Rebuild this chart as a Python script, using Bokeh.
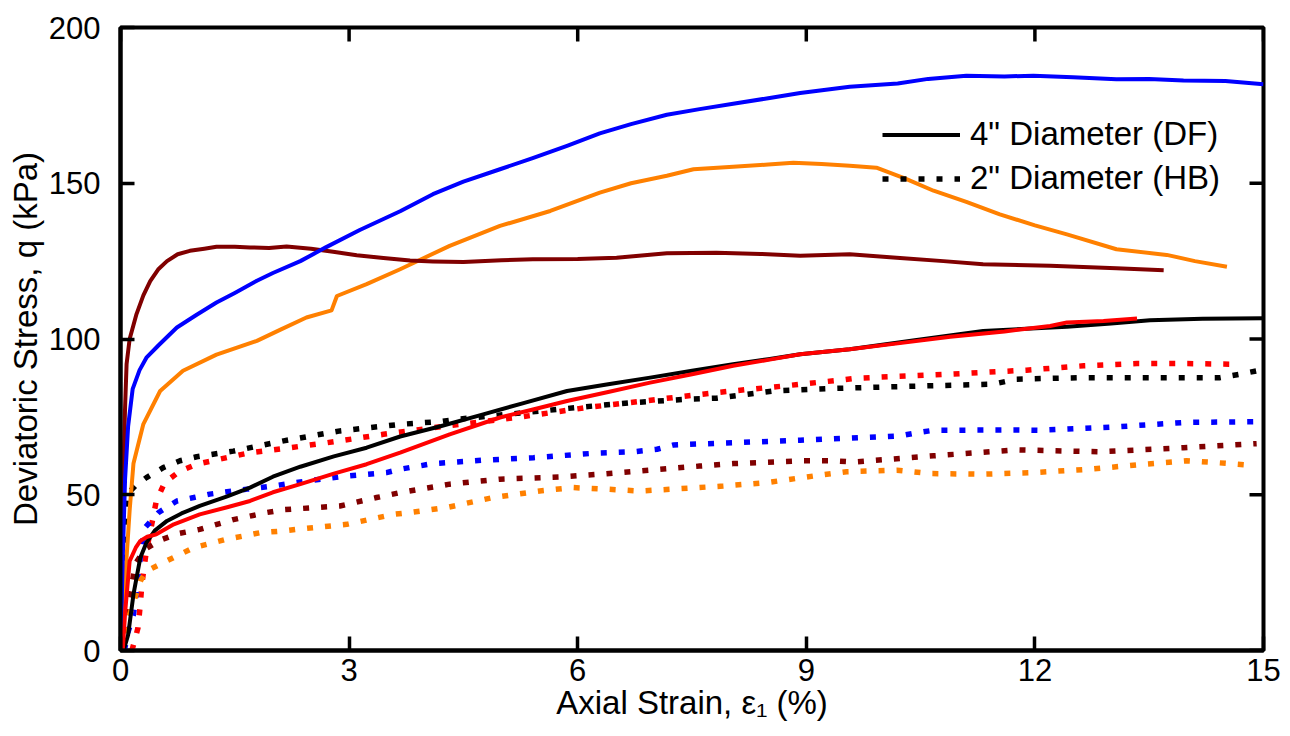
import math
from bokeh.plotting import figure
from bokeh.models import Range1d, FixedTicker, Legend, LegendItem
from bokeh.embed import file_html
from bokeh.resources import INLINE

# ---------------- data ----------------
x_ticks = [0, 3, 6, 9, 12, 15]
y_ticks = [0, 50, 100, 150, 200]

# 4" Diameter (DF) - solid lines
df_black_x = [0.04, 0.1, 0.17, 0.26, 0.34, 0.45, 0.61, 0.8, 1.04, 1.4, 1.7, 2.0, 2.36, 2.8, 3.23, 3.67, 4.2, 4.76, 5.3, 5.86, 6.4, 6.95, 7.5, 8.04, 8.5, 8.92, 9.57, 10.4, 11.32, 12.42, 13.0, 13.51, 14.2, 15.0]
df_black_y = [0, 5, 18, 29.8, 34.6, 38.5, 41.6, 44, 46.4, 49.5, 52.3, 55.8, 59.0, 62.3, 65.1, 68.7, 72, 75.8, 79.5, 83.3, 85.5, 87.6, 89.8, 91.9, 93.5, 95.1, 96.7, 99.5, 102.6, 103.9, 105, 106, 106.5, 106.7]

df_red_x = [0.03, 0.06, 0.12, 0.2, 0.26, 0.35, 0.47, 0.7, 1.04, 1.4, 1.7, 2.0, 2.36, 2.8, 3.23, 3.67, 4.32, 4.98, 5.4, 5.86, 6.4, 6.95, 7.5, 8.04, 8.5, 8.92, 9.57, 10.2, 10.89, 11.6, 12.2, 12.42, 12.9, 13.34]
df_red_y = [0, 12, 28.7, 33, 35.2, 36.5, 37.3, 40.5, 43.7, 46, 48, 50.8, 53.4, 56.8, 59.8, 63.5, 69.4, 74.8, 77.3, 80.1, 83, 86, 88.7, 91.4, 93.3, 95.1, 96.7, 98.6, 100.7, 102.4, 104.2, 105.3, 105.8, 106.6]

df_blue_x = [0, 0.03, 0.06, 0.1, 0.16, 0.25, 0.34, 0.5, 0.74, 1.0, 1.26, 1.5, 1.79, 2.0, 2.36, 2.7, 3.14, 3.67, 4.1, 4.5, 4.98, 5.4, 5.86, 6.29, 6.7, 7.17, 7.6, 8.04, 8.5, 8.92, 9.57, 10.2, 10.6, 11.1, 11.6, 11.98, 12.5, 13.07, 13.5, 13.95, 14.5, 15.0]
df_blue_y = [0, 30, 55, 72, 84, 90, 94, 98, 103.7, 107.8, 111.7, 114.8, 118.7, 121.2, 125, 129.5, 135, 141, 146.5, 150.5, 154.5, 158, 162, 166, 169, 172, 173.8, 175.5, 177.3, 179, 181, 182, 183.5, 184.5, 184.3, 184.5, 184, 183.4, 183.5, 183, 182.8, 181.8]

df_maroon_x = [0, 0.02, 0.04, 0.06, 0.08, 0.12, 0.21, 0.3, 0.39, 0.5, 0.61, 0.75, 0.91, 1.1, 1.26, 1.5, 1.7, 1.95, 2.18, 2.5, 2.79, 3.1, 3.45, 3.8, 4.1, 4.5, 5.0, 5.41, 6.0, 6.51, 7.17, 7.82, 8.4, 8.92, 9.57, 10.23, 10.8, 11.32, 12.2, 13.07, 13.69]
df_maroon_y = [0, 30, 60, 78, 92, 100, 108, 114, 118.6, 122.5, 125, 127.2, 128.3, 129, 129.6, 129.6, 129.4, 129.2, 129.7, 129, 128, 126.9, 126, 125.2, 124.9, 124.7, 125.3, 125.6, 125.7, 126.1, 127.5, 127.7, 127.3, 126.7, 127.2, 126, 125, 124, 123.5, 122.7, 122.1]

df_orange_x = [0, 0.04, 0.08, 0.12, 0.17, 0.3, 0.52, 0.82, 1.26, 1.79, 2.1, 2.44, 2.77, 2.84, 3.23, 3.67, 4.32, 4.98, 5.64, 6.29, 6.7, 7.17, 7.52, 8.04, 8.5, 8.83, 9.2, 9.57, 9.92, 10.3, 10.67, 11.1, 11.54, 12.0, 12.42, 13.07, 13.73, 14.1, 14.52]
df_orange_y = [0, 15, 30, 45, 60, 72.7, 83.3, 89.8, 95, 99.4, 103, 106.9, 109.2, 113.8, 117.6, 122.4, 129.9, 136.3, 141.1, 147, 150, 152.4, 154.5, 155.3, 156, 156.6, 156.2, 155.6, 155, 151.5, 147.6, 144, 140, 136.5, 133.6, 128.8, 127, 125, 123.2]

# 2" Diameter (HB) - dotted lines
hb_black_x = [0, 0.03, 0.08, 0.2, 0.34, 0.56, 0.78, 1.0, 1.48, 2.14, 2.88, 3.67, 4.19, 4.41, 5.07, 6.07, 6.73, 7.47, 7.82, 8.57, 9.31, 9.75, 10.49, 11.45, 11.76, 12.64, 13.51, 14.43, 14.69, 14.96]
hb_black_y = [0, 25, 50, 53, 55.5, 58.7, 60.9, 62.2, 64, 67.3, 70.5, 72.6, 73.5, 74.2, 75.8, 78.2, 79.6, 80.7, 81, 83.3, 84.1, 84.4, 84.9, 85.5, 87.1, 87.6, 87.6, 87.6, 88.7, 90]

hb_red_x = [0.15, 0.23, 0.26, 0.28, 0.34, 0.41, 0.47, 0.58, 0.78, 1.0, 1.26, 1.7, 2.22, 2.71, 3.45, 4.1, 4.46, 5.2, 6.12, 7.08, 7.82, 8.7, 9.44, 9.64, 10.89, 11.89, 12.64, 13.34, 14.0, 14.6]
hb_red_y = [0, 7.3, 14.8, 21.3, 32, 40.5, 48, 53.9, 57.6, 59.8, 61.2, 63.5, 65.1, 66.7, 69.4, 71.5, 72.6, 74.8, 78, 80.7, 82.8, 84.9, 86.8, 87.4, 88.7, 90, 91.4, 92.1, 92.1, 91.9]

hb_blue_x = [0.05, 0.1, 0.17, 0.21, 0.26, 0.32, 0.5, 0.74, 0.96, 1.17, 1.66, 2.0, 2.44, 2.97, 3.49, 3.67, 4.1, 4.76, 5.42, 6.2, 6.73, 7.04, 7.26, 8.04, 8.92, 9.49, 10.23, 10.45, 10.67, 11.76, 12.07, 13.07, 13.95, 15.0]
hb_blue_y = [0, 6, 11.6, 19.1, 30, 39.4, 44.3, 48, 49.1, 50.2, 51.8, 52.8, 54.4, 56, 57.1, 58.2, 60, 61.1, 61.9, 63.3, 63.8, 64.6, 66, 66.7, 67.5, 68.1, 68.9, 69.9, 70.7, 70.8, 70.7, 71.8, 73.2, 73.5]

hb_maroon_x = [0, 0.1, 0.2, 0.32, 0.52, 0.75, 1.04, 1.48, 1.92, 2.14, 2.5, 2.88, 3.36, 3.67, 3.93, 4.32, 4.98, 5.77, 6.29, 6.95, 7.6, 8.04, 8.92, 9.35, 9.62, 10.67, 11.76, 12.85, 13.95, 14.91]
hb_maroon_y = [0, 15, 28, 32.5, 35.4, 37.5, 38.9, 42, 44.3, 45.2, 45.8, 46.4, 49.1, 50.7, 51.8, 53.4, 55, 55.7, 56.6, 57.9, 59.2, 60, 60.9, 60.9, 60.5, 62.5, 64.4, 63.8, 65.1, 66.4]

hb_orange_x = [0, 0.1, 0.26, 0.34, 0.56, 0.96, 1.39, 1.83, 2.14, 2.31, 2.97, 3.58, 3.8, 4.28, 4.89, 5.5, 5.94, 6.38, 6.82, 7.25, 7.91, 8.48, 9.09, 9.53, 10.19, 10.62, 11.32, 11.98, 12.72, 13.34, 13.99, 14.39, 14.82]
hb_orange_y = [0, 10, 22.3, 25.5, 28.2, 33, 35.7, 37.8, 38.4, 38.9, 40.5, 43.7, 44.3, 45.9, 49.1, 51.2, 52.3, 51.8, 51.2, 51.8, 52.8, 53.9, 56, 57.4, 57.9, 56.8, 56.6, 57.1, 58.2, 59.6, 60.9, 60.3, 59.5]

legend_labels = ['4" Diameter (DF)', '2" Diameter (HB)']

# ---------------- figure ----------------
FONT = "Liberation Sans"
X0, X1, Y0, Y1 = 0, 15, 0, 200
p = figure(width=1290, height=736, output_backend="svg", toolbar_location=None,
           x_range=Range1d(X0, X1), y_range=Range1d(Y0, Y1),
           min_border_left=120, min_border_right=27, min_border_top=27, min_border_bottom=86)
p.grid.visible = False
p.outline_line_color = "black"
p.outline_line_width = 4
p.background_fill_color = "white"
p.border_fill_color = "white"

BLACK, RED, BLUE, MAROON, ORANGE = "#000000", "#FF0000", "#0000FF", "#800000", "#FF8000"
SW, DW, DASH = 4, 5.5, "6 12"

hb = {}
for name, xs, ys, c in [("black", hb_black_x, hb_black_y, BLACK), ("red", hb_red_x, hb_red_y, RED),
                        ("blue", hb_blue_x, hb_blue_y, BLUE), ("maroon", hb_maroon_x, hb_maroon_y, MAROON),
                        ("orange", hb_orange_x, hb_orange_y, ORANGE)]:
    hb[name] = p.line(xs, ys, line_color=c, line_width=DW, line_dash=DASH, line_cap="butt")

df = {}
for name, xs, ys, c in [("orange", df_orange_x, df_orange_y, ORANGE), ("maroon", df_maroon_x, df_maroon_y, MAROON),
                        ("blue", df_blue_x, df_blue_y, BLUE), ("black", df_black_x, df_black_y, BLACK),
                        ("red", df_red_x, df_red_y, RED)]:
    df[name] = p.line(xs, ys, line_color=c, line_width=SW, line_join="round")

# inward ticks on top and right edges (box style), from the tick lists
p.ray(x=x_ticks, y=[Y1] * len(x_ticks), length=14, length_units="screen",
      angle=-math.pi / 2, line_color="black", line_width=3.5)
p.ray(x=[X1] * len(y_ticks), y=y_ticks, length=14, length_units="screen",
      angle=math.pi, line_color="black", line_width=3.5)

# axes
for ax in (p.xaxis[0], p.yaxis[0]):
    ax.major_tick_in = 14
    ax.major_tick_out = 0
    ax.minor_tick_in = 0
    ax.minor_tick_out = 0
    ax.axis_line_width = 4
    ax.major_tick_line_width = 3.5
    ax.major_label_text_font = FONT
    ax.major_label_text_font_size = "31px"
    ax.major_label_text_color = "black"
    ax.axis_label_text_font = FONT
    ax.axis_label_text_font_size = "33px"
    ax.axis_label_text_font_style = "normal"
    ax.axis_label_text_color = "black"

p.xaxis[0].ticker = FixedTicker(ticks=x_ticks)
p.yaxis[0].ticker = FixedTicker(ticks=y_ticks)
p.xaxis[0].axis_label = "Axial Strain, ε₁ (%)"
p.yaxis[0].axis_label = "Deviatoric Stress, q (kPa)"
p.xaxis[0].major_label_standoff = 8
p.yaxis[0].major_label_standoff = 20
p.xaxis[0].axis_label_standoff = 0
p.yaxis[0].axis_label_standoff = 2

legend = Legend(items=[LegendItem(label=legend_labels[0], renderers=[df["black"]]),
                       LegendItem(label=legend_labels[1], renderers=[hb["black"]])],
                location=(762, 453), orientation="vertical",
                glyph_width=78, glyph_height=37, label_height=37, label_standoff=10,
                spacing=6, padding=0, margin=0,
                label_text_font=FONT, label_text_font_size="33px", label_text_color="black",
                border_line_color=None, background_fill_alpha=0)
p.add_layout(legend)

open("out.html", "w").write(file_html(p, INLINE))
